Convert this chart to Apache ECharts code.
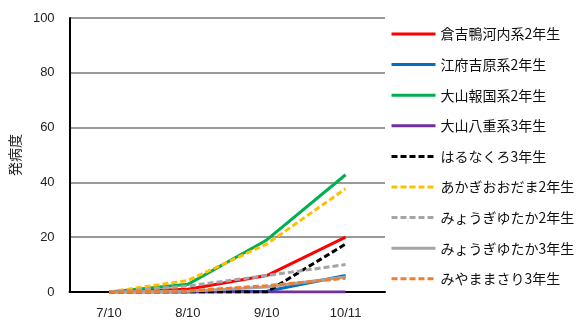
<!DOCTYPE html>
<html><head><meta charset="utf-8">
<script src="https://cdn.jsdelivr.net/npm/echarts@6/dist/echarts.min.js"></script>
<style>html,body{margin:0;padding:0;background:#fff}#c{width:588px;height:320px}</style>
</head><body><div id="c"></div>
<script>
const categories = ['7/10', '8/10', '9/10', '10/11'];
const seriesNames = ['倉吉鴨河内系2年生','江府吉原系2年生','大山報国系2年生','大山八重系3年生','はるなくろ3年生','あかぎおおだま2年生','みょうぎゆたか2年生','みょうぎゆたか3年生','みやままさり3年生'];
const kurayoshi = [0, 1, 6, 20];
const kofu = [0, 0, 0.3, 6];
const daisenHokoku = [0, 2.8, 19, 42.8];
const daisenYae = [0, 0, 0, 0];
const harunakuro = [0, 0, 0, 17.5];
const akagi = [0, 4.2, 17.5, 37.7];
const myogi2 = [0, 2.2, 6, 10];
const myogi3 = [0, 0.3, 1.8, 5.5];
const miyama = [0, 0.4, 2.3, 5];
const yTicks = [0, 20, 40, 60, 80, 100];

const values = [kurayoshi, kofu, daisenHokoku, daisenYae, harunakuro, akagi, myogi2, myogi3, miyama];
const colors = ['#FF0000','#0070C0','#00B050','#7030A0','#000000','#FFC000','#A5A5A5','#A5A5A5','#ED7D31'];
const dashed = [false,false,false,false,true,true,true,false,true];
const font = '"Noto Sans CJK JP", sans-serif';
const numFont = '"Liberation Sans", Arial, sans-serif';

const chart = echarts.init(document.getElementById('c'));
chart.setOption({
  animation: false,
  grid: {left: 63, right: 203, top: 18, bottom: 28},
  legend: {
    orient: 'vertical', left: 385, top: 22,
    itemWidth: 44, itemHeight: 14, itemGap: 16.6,
    itemStyle: {opacity: 0},
    lineStyle: {width: 3},
    textStyle: {fontFamily: font, fontSize: 14, color: '#111'},
    data: seriesNames
  },
  xAxis: {
    type: 'category', data: categories, boundaryGap: true,
    axisLine: {lineStyle: {color: '#000', width: 2}},
    axisTick: {show: false},
    axisLabel: {fontFamily: numFont, fontSize: 13, color: '#222', margin: 15}
  },
  yAxis: {
    type: 'value', min: yTicks[0], max: yTicks[yTicks.length-1], interval: 20,
    name: '発病度', nameLocation: 'middle', nameRotate: 90, nameGap: 46,
    nameTextStyle: {fontFamily: font, fontSize: 14, color: '#222'},
    axisLine: {show: true, lineStyle: {color: '#000', width: 2}},
    axisTick: {show: false},
    axisLabel: {fontFamily: numFont, fontSize: 13, color: '#222', margin: 15},
    splitLine: {lineStyle: {color: '#999', width: 2}}
  },
  series: seriesNames.map((n, i) => ({
    name: n, type: 'line', data: values[i], symbol: 'none',
    color: colors[i],
    lineStyle: {color: colors[i], width: 3, type: dashed[i] ? [6, 3] : 'solid'}
  }))
});
</script></body></html>
